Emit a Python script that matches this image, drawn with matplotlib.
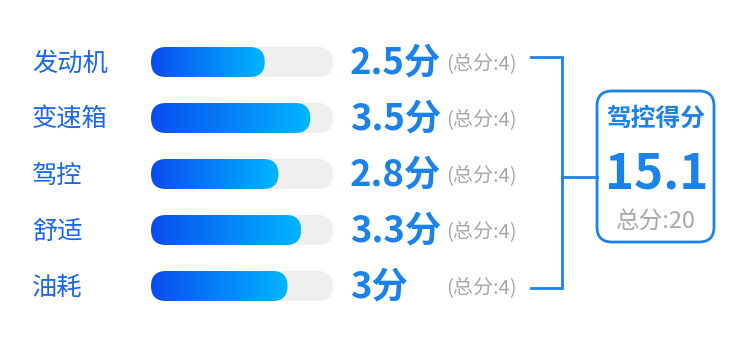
import numpy as np
import matplotlib
matplotlib.use("Agg")
import matplotlib.pyplot as plt
from matplotlib.patches import FancyBboxPatch
from matplotlib.colors import LinearSegmentedColormap

plt.rcParams['font.family'] = ['Noto Sans CJK SC', 'DejaVu Sans']

# data
labels = ["发动机", "变速箱", "驾控", "舒适", "油耗"]
scores = [2.5, 3.5, 2.8, 3.3, 3]
score_text = ["2.5分", "3.5分", "2.8分", "3.3分", "3分"]
full = 4
total_title = "驾控得分"
total_score = 15.1
total_full = 20

W, H = 750, 339
fig = plt.figure(figsize=(W / 100, H / 100), dpi=100)
fig.patch.set_facecolor("white")

blue_lbl = "#1a66ee"
blue = "#1a82ea"
grey = "#a8a8a8"
grad = LinearSegmentedColormap.from_list("g", ["#0a4cf0", "#00b6ff"])

# overlay in pixel units for text / bracket
ov = fig.add_axes([0, 0, 1, 1])
ov.set_xlim(0, W)
ov.set_ylim(H, 0)
ov.axis("off")

# bar axes: x in score units, y in row units
bx0, bx1 = 151, 333
row0, step = 62, 56
by_top, by_bot = row0 - step * 0.5, row0 + step * 4.5
bax = fig.add_axes([bx0 / W, 1 - by_bot / H, (bx1 - bx0) / W, (by_bot - by_top) / H])
bax.axis("off")

pxx = (bx1 - bx0) / full       # px per x unit
asp = (1 / step) / (1 / pxx)   # y units per x unit
bh = 30 / step
rad = 15 / pxx

for i, v in enumerate(scores):
    track = FancyBboxPatch((0, i - bh / 2), full, bh,
                           boxstyle=f"round,pad=0,rounding_size={rad}",
                           mutation_aspect=asp, fc="#efefef", ec="none", zorder=1)
    bax.add_patch(track)
    fill = FancyBboxPatch((0, i - bh / 2), v, bh,
                          boxstyle=f"round,pad=0,rounding_size={rad}",
                          mutation_aspect=asp, fc="none", ec="none", zorder=2)
    bax.add_patch(fill)
    im = bax.imshow(np.linspace(0, 1, 256).reshape(1, -1), cmap=grad,
                    extent=[0, v, i + bh / 2, i - bh / 2], aspect="auto",
                    interpolation="bicubic", zorder=3)
    im.set_clip_path(fill)

    y = row0 + i * step
    ov.text(32, y + 2, labels[i], fontsize=18.2, color=blue_lbl, va="center", ha="left")
    ov.text(350, y + 1, score_text[i], fontsize=26.2, color=blue, fontweight="bold",
            va="center", ha="left")
    ov.text(446, y + 2, f"(总分:{full})", fontsize=14.5, color=grey, va="center", ha="left")

bax.set_xlim(0, full)
bax.set_ylim(4.5, -0.5)

# bracket
lc = "#1a82ea"
y_top, y_bot = row0 - 5, row0 + 4 * step + 2
ov.plot([531, 562, 562, 531], [y_top, y_top, y_bot, y_bot], color=lc, lw=2,
        solid_joinstyle="miter")
ov.plot([562, 597], [177, 177], color=lc, lw=2)

# total box
box = FancyBboxPatch((597, 91), 117, 151, boxstyle="round,pad=0,rounding_size=15",
                     fc="white", ec=lc, lw=2)
ov.add_patch(box)
ov.text(656, 119, total_title, fontsize=17.8, color=blue, fontweight="bold",
        ha="center", va="center")
ov.text(657, 174, f"{total_score}", fontsize=35.5, color=blue, fontweight="bold",
        ha="center", va="center")
ov.text(656, 222, f"总分:{total_full}", fontsize=17, color=grey, ha="center", va="center")

fig.savefig("out.png", dpi=100, facecolor="white")
